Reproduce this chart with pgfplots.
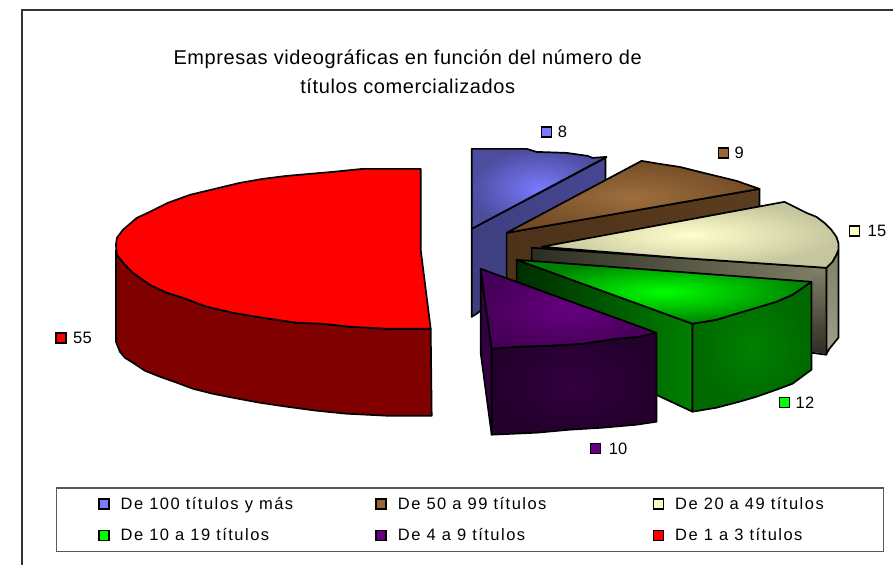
\documentclass[border=0pt]{standalone}
\usepackage{fontspec}
\setmainfont{Liberation Sans}
\newfontfamily\titlefont[LetterSpace=3]{Liberation Sans}
\newfontfamily\legfont[LetterSpace=9]{Liberation Sans}
\newfontfamily\numfont[LetterSpace=2]{Liberation Sans}
\usepackage{pgfplots}
\pgfplotsset{compat=1.18}
\definecolor{blueT}{RGB}{122,122,255}
\definecolor{blueD}{RGB}{62,62,128}
\definecolor{brownT}{RGB}{153,102,51}
\definecolor{brownD}{RGB}{76,50,25}
\definecolor{creamT}{RGB}{255,255,204}
\definecolor{creamD}{RGB}{128,128,102}
\definecolor{greenT}{RGB}{0,255,0}
\definecolor{greenD}{RGB}{0,128,0}
\definecolor{purpleT}{RGB}{102,0,128}
\definecolor{purpleD}{RGB}{51,0,64}
\definecolor{redT}{RGB}{255,0,0}
\definecolor{redD}{RGB}{128,0,0}
\pgfplotsset{
  slice/.style={draw=black,line width=1.7bp,line join=round,forget plot},
  swatch/.style={only marks,mark=square*,mark size=5bp,mark options={draw=black,line width=1.5bp,fill=#1},forget plot},
  leg/.style={draw=black,line width=1.5bp,fill=#1},
}
\newcommand{\lab}[1]{\hspace{9bp}\makebox[165bp][l]{\legfont #1}}
\newcommand{\numlab}{\numfont\fontsize{16.5bp}{18bp}\selectfont}
\begin{document}
\begin{tikzpicture}
\begin{axis}[
  scale only axis,width=894bp,height=565bp,
  xmin=0,xmax=894,ymin=0,ymax=565,y dir=reverse,
  hide axis,clip=false,
  legend columns=3,
  legend style={at={(axis cs:470.5,520)},anchor=center,draw=black!65,line width=1.2bp,
    font=\fontsize{16.5bp}{18bp}\selectfont,inner xsep=41.5bp,inner ysep=7bp,
    /tikz/every even column/.append style={column sep=88bp},
    row sep=14bp},
  legend image code/.code={\draw[#1] (0bp,-5bp) rectangle (10bp,5bp);},
]
\addlegendimage{leg=blueT}\addlegendentry{\lab{De 100 títulos y más}}
\addlegendimage{leg=brownT}\addlegendentry{\lab{De 50 a 99 títulos}}
\addlegendimage{leg=creamT}\addlegendentry{\lab{De 20 a 49 títulos}}
\addlegendimage{leg=greenT}\addlegendentry{\lab{De 10 a 19 títulos}}
\addlegendimage{leg=purpleT}\addlegendentry{\lab{De 4 a 9 títulos}}
\addlegendimage{leg=redT}\addlegendentry{\lab{De 1 a 3 títulos}}

% page extent
\addplot[draw=none,forget plot] coordinates {(0,0) (894,565)};
% chart frame
\addplot[black!80,line width=1.3bp,forget plot] coordinates {(22,565) (22,10) (894,10)};

% blue slice (8)
\addplot[slice,left color=blueD,right color=blueD!85!blueT] coordinates {(472,229) (606,158) (606,210) (477,314) (472,317)} --cycle;
\addplot[slice,inner color=blueT,outer color=blueD!75!blueT] coordinates {(472,149) (527,149) (537,152) (567,153) (588,156) (593,158) (607,157) (472,229)} --cycle;

% brown slice (9)
\addplot[slice,left color=brownD,right color=brownD!80!brownT] coordinates {(507,233) (760,189) (760,208) (507,300)} --cycle;
\addplot[slice,inner color=brownT!95!white,outer color=brownT!75!black] coordinates {(507,233) (642,161) (660,164) (680,167) (700,172) (737,181) (760,189)} --cycle;

% cream slice (15)
\addplot[slice,left color=creamD!35!black,right color=creamD] coordinates {(532,248) (827,268) (827,355) (812,353) (532,300)} --cycle;
\addplot[draw=none,forget plot,top color=creamD,bottom color=creamD!35!black] coordinates {(813,269) (826,269) (826,354) (813,352)} --cycle;
\addplot[slice,top color=creamD,bottom color=creamD!75!white] coordinates {(827,268) (833,262) (837,255) (839,250) (839,338) (830,349) (827,354)} --cycle;
\addplot[slice,inner color=creamT,outer color=creamT!55!creamD] coordinates {(542,247) (785,202) (797,208) (807,213) (817,217) (825,223) (832,230) (837,237) (839,243) (839,250) (837,255) (833,262) (827,268) (680,258)} --cycle;

% green slice (12)
\addplot[slice,left color=greenD!35!black,right color=greenD] coordinates {(517,260) (693,324) (693,412) (517,330)} --cycle;
\addplot[slice,inner color=greenD,outer color=greenD!82!black] coordinates {(693,324) (717,320) (740,313) (757,308) (777,302) (793,295) (812,282) (812,370) (793,384) (777,390) (757,397) (740,402) (717,408) (693,412)} --cycle;
\addplot[slice,inner color=greenT,outer color=greenT!50!black] coordinates {(517,260) (812,282) (793,295) (777,302) (757,308) (740,313) (717,320) (693,324)} --cycle;

% purple slice (10)
\addplot[slice,fill=purpleD] coordinates {(481,269) (492,349) (492,435) (481,353)} --cycle;
\addplot[slice,inner color=purpleD,outer color=purpleD!70!black] coordinates {(492,349) (517,347) (550,346) (583,344) (617,339) (640,337) (657,333) (657,422) (637,425) (603,428) (570,430) (537,433) (492,435)} --cycle;
\addplot[slice,inner color=purpleT,outer color=purpleT!70!black] coordinates {(481,269) (657,333) (640,337) (617,339) (583,344) (550,346) (517,347) (492,349)} --cycle;

% red slice (55)
\addplot[slice,fill=redD] coordinates {(116,250) (117,255) (125,265) (133,273) (150,285) (167,293) (183,298) (207,307) (233,313) (263,318) (297,323) (323,324) (350,327) (387,329) (431,329) (432,416) (387,416) (347,414) (317,411) (287,407) (260,403) (233,398) (213,394) (193,389) (177,383) (160,377) (145,371) (133,363) (125,358) (120,352) (116,342)} --cycle;
\addplot[slice,fill=redT] coordinates {(421,169) (363,169) (333,172) (310,174) (287,176) (263,179) (240,183) (215,189) (190,195) (168,203) (150,212) (137,218) (123,230) (117,238) (116,245) (117,255) (125,265) (133,273) (150,285) (167,293) (183,298) (207,307) (233,313) (263,318) (297,323) (323,324) (350,327) (387,329) (431,329) (421,250)} --cycle;

% data labels
\addplot[swatch=blueT] coordinates {(547,132)};
\addplot[swatch=brownT] coordinates {(724,153)};
\addplot[swatch=creamT] coordinates {(855,231)};
\addplot[swatch=greenT] coordinates {(785,403)};
\addplot[swatch=purpleT] coordinates {(596,449)};
\addplot[swatch=redT] coordinates {(61,338)};
\node[anchor=west,inner sep=0pt,font=\numlab] at (axis cs:558,132) {8};
\node[anchor=west,inner sep=0pt,font=\numlab] at (axis cs:735,153) {9};
\node[anchor=west,inner sep=0pt,font=\numlab] at (axis cs:868,231) {15};
\node[anchor=west,inner sep=0pt,font=\numlab] at (axis cs:796,403) {12};
\node[anchor=west,inner sep=0pt,font=\numlab] at (axis cs:609,449) {10};
\node[anchor=west,inner sep=0pt,font=\numlab] at (axis cs:73,338) {55};

% title
\node[align=center,inner sep=0pt,font=\titlefont\fontsize{20bp}{29bp}\selectfont] at (axis cs:408,72) {Empresas videográficas en función del número de\\títulos comercializados};
\end{axis}
\end{tikzpicture}
\end{document}
